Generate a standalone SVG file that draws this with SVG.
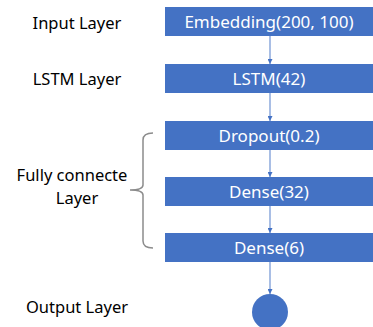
<svg xmlns="http://www.w3.org/2000/svg" width="373" height="327" viewBox="0 0 373 327">
<defs>
<style>
.box{fill:#4472c4}
.bt{fill:#fff;font-family:"Noto Sans","Noto Sans CJK KR",sans-serif;font-size:17px;text-anchor:middle}
.lbl{fill:#000;font-family:"Noto Sans","Noto Sans CJK KR",sans-serif;font-size:16.5px;text-anchor:middle}
.con{stroke:#6f93d3;stroke-width:1.2;fill:none;marker-end:url(#ah)}
.brace{stroke:#8c8c8c;stroke-width:1.5;fill:none}
</style>
<marker id="ah" viewBox="0 0 6 6" refX="6" refY="3" markerWidth="5" markerHeight="5" orient="auto" markerUnits="userSpaceOnUse">
<path d="M0,0 L6,3 L0,6 z" fill="#4472c4"/>
</marker>
</defs>
<rect width="373" height="327" fill="#fff"/>
<g id="labels">
<text class="lbl" x="77" y="29">Input Layer</text>
<text class="lbl" x="77" y="85">LSTM Layer</text>
<text class="lbl" x="72" y="181">Fully connecte</text>
<text class="lbl" x="77" y="204">Layer</text>
<text class="lbl" x="77" y="313">Output Layer</text>
</g>
<g id="brace"><path class="brace" d="M153,133 Q143,133 143,140 L143,185 Q143,190 130,190 Q143,190 143,195 L143,241 Q143,248 153,248"/></g>
<g id="connectors">
<line class="con" x1="270" y1="36" x2="270" y2="64"/>
<line class="con" x1="270" y1="93" x2="270" y2="121"/>
<line class="con" x1="270" y1="150" x2="270" y2="177"/>
<line class="con" x1="270" y1="206" x2="270" y2="233"/>
<line class="con" x1="270" y1="262" x2="270" y2="294"/>
</g>
<g id="embedding"><rect class="box" x="165" y="7" width="208" height="29"/><text class="bt" x="269" y="27.5">Embedding(200, 100)</text></g>
<g id="lstm"><rect class="box" x="165" y="64" width="208" height="29"/><text class="bt" x="269" y="84.5">LSTM(42)</text></g>
<g id="dropout"><rect class="box" x="165" y="121" width="208" height="29"/><text class="bt" x="269" y="141.5">Dropout(0.2)</text></g>
<g id="dense32"><rect class="box" x="165" y="177" width="208" height="29"/><text class="bt" x="269" y="197.5">Dense(32)</text></g>
<g id="dense6"><rect class="box" x="165" y="233" width="208" height="29"/><text class="bt" x="269" y="253.5">Dense(6)</text></g>
<g id="output"><circle cx="270" cy="312" r="18" fill="#4472c4"/></g>
</svg>
